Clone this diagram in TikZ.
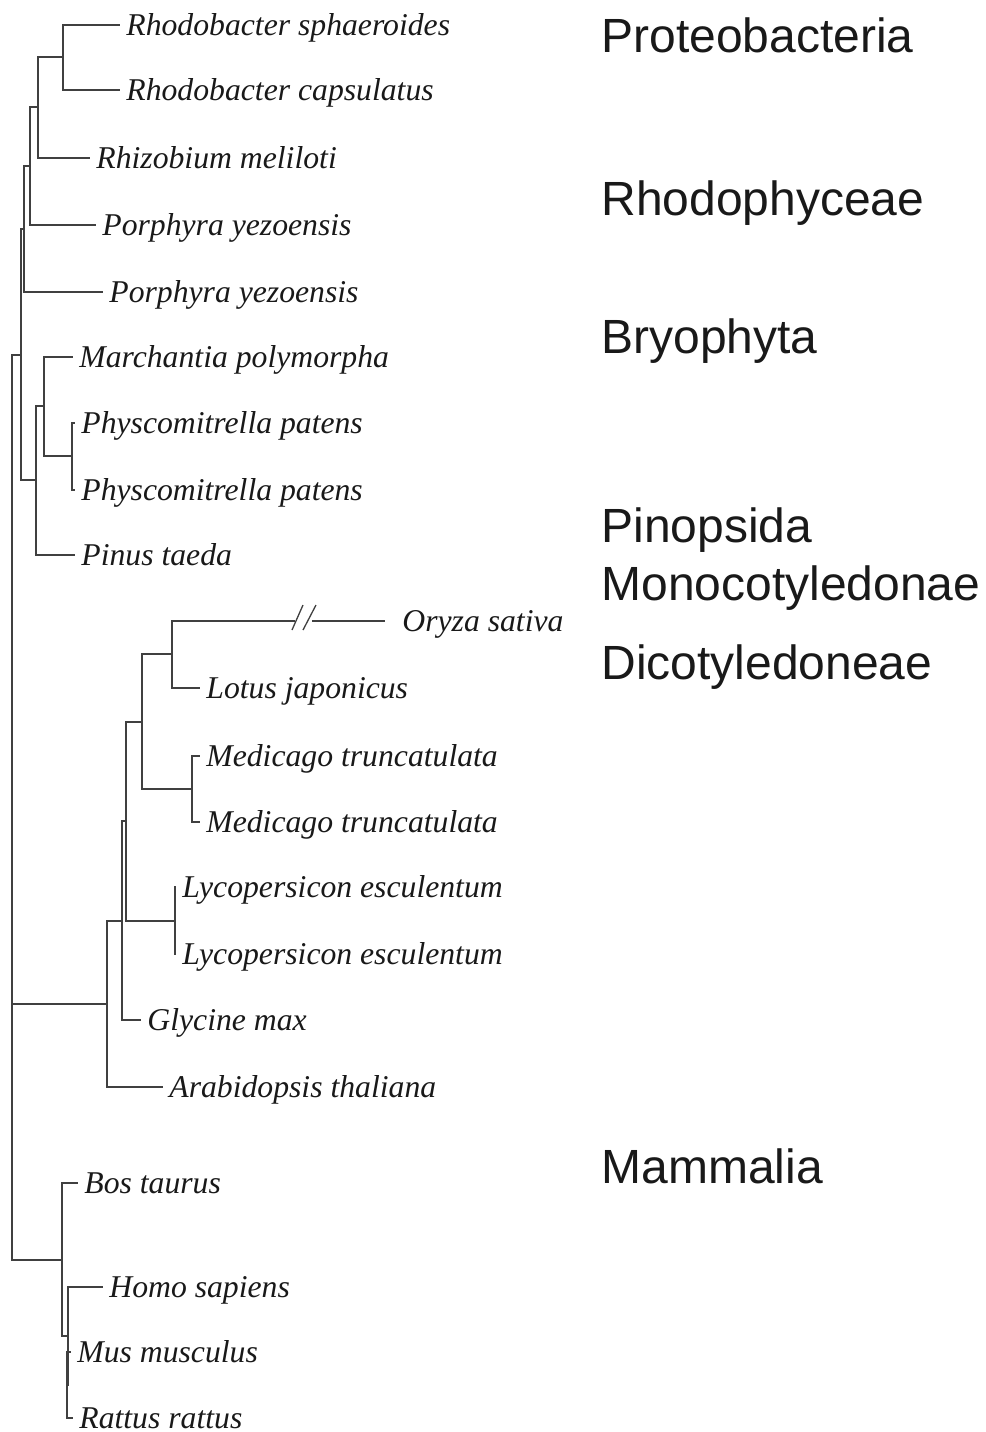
\documentclass[tikz,border=0pt]{standalone}
\usepackage{fontspec}
\usepackage{tikz}
\usetikzlibrary{calc}
\newfontfamily\taxfont{Liberation Serif}
\newfontfamily\groupfont{Liberation Sans}

\begin{document}
\begin{tikzpicture}[
    x=0.5pt, y=-0.5pt,
    taxon/.style={anchor=west, inner xsep=3pt, inner ysep=0pt, text height=12pt, text depth=2pt, text=black!90, font=\taxfont\itshape\fontsize{15.85}{18}\selectfont},
    group/.style={anchor=base west, inner sep=0pt, text=black!90, font=\groupfont\fontsize{24}{26}\selectfont},
    branch/.style={line width=0.65pt, black!75}
]

\useasboundingbox (0,0) rectangle (986,1432);

% Leaves
\node[taxon] (rsph) at (120,25) {Rhodobacter sphaeroides};
\node[taxon] (rcap) at (120,90) {Rhodobacter capsulatus};
\node[taxon] (rmel) at (90,158) {Rhizobium meliloti};
\node[taxon] (pyez1) at (96,225) {Porphyra yezoensis};
\node[taxon] (pyez2) at (103,292) {Porphyra yezoensis};
\node[taxon] (mpol) at (73,357) {Marchantia polymorpha};
\node[taxon] (ppat1) at (75,423) {Physcomitrella patens};
\node[taxon] (ppat2) at (75,490) {Physcomitrella patens};
\node[taxon] (ptae) at (75,555) {Pinus taeda};
\node[taxon, inner xsep=8.5pt] (osat) at (385,621) {Oryza sativa};
\node[taxon] (ljap) at (200,688) {Lotus japonicus};
\node[taxon] (mtru1) at (200,756) {Medicago truncatulata};
\node[taxon] (mtru2) at (200,822) {Medicago truncatulata};
\node[taxon] (lesc1) at (176,887) {Lycopersicon esculentum};
\node[taxon] (lesc2) at (176,954) {Lycopersicon esculentum};
\node[taxon] (gmax) at (141,1020) {Glycine max};
\node[taxon] (atha) at (163,1087) {Arabidopsis thaliana};
\node[taxon] (btau) at (78,1183) {Bos taurus};
\node[taxon] (hsap) at (103,1287) {Homo sapiens};
\node[taxon] (mmus) at (71,1352) {Mus musculus};
\node[taxon] (rrat) at (73,1418) {Rattus rattus};

% Inner nodes
\coordinate (rhodo) at (63,57);
\coordinate (proteo) at (38,107);
\coordinate (porA) at (30,166);
\coordinate (porB) at (24,229);
\coordinate (phys) at (72,456);
\coordinate (moss) at (44,406);
\coordinate (land) at (36,480);
\coordinate (top) at (21,355);
\coordinate (orylot) at (172,654);
\coordinate (med) at (192,789);
\coordinate (fab) at (142,722);
\coordinate (lyc) at (175,921);
\coordinate (eud) at (126,821);
\coordinate (gly) at (122,921);
\coordinate (ara) at (107,1004);
\coordinate (murid) at (67,1385);
\coordinate (euar) at (68,1336);
\coordinate (mam) at (62,1260);
\coordinate (rootA) at (12,680);
\coordinate (root) at (12,970);
\coordinate (brkA) at (295,621);
\coordinate (brkB) at (312,621);

% Branches
\draw[branch] (rhodo) |- (rsph.west);
\draw[branch] (rhodo) |- (rcap.west);
\draw[branch] (proteo) |- (rhodo);
\draw[branch] (proteo) |- (rmel.west);
\draw[branch] (porA) |- (proteo);
\draw[branch] (porA) |- (pyez1.west);
\draw[branch] (porB) |- (porA);
\draw[branch] (porB) |- (pyez2.west);
\draw[branch] (phys) |- (ppat1.west);
\draw[branch] (phys) |- (ppat2.west);
\draw[branch] (moss) |- (mpol.west);
\draw[branch] (moss) |- (phys);
\draw[branch] (land) |- (moss);
\draw[branch] (land) |- (ptae.west);
\draw[branch] (top) |- (porB);
\draw[branch] (top) |- (land);

\draw[branch] (orylot) |- (brkA);
\draw[branch] (brkB) -- (osat.west);
\draw[branch] ($(brkA)+(-3,9)$) -- ++(11,-25);
\draw[branch] ($(brkB)+(-9,9)$) -- ++(13,-25);
\draw[branch] (orylot) |- (ljap.west);
\draw[branch] (med) |- (mtru1.west);
\draw[branch] (med) |- (mtru2.west);
\draw[branch] (fab) |- (orylot);
\draw[branch] (fab) |- (med);
\draw[branch] (lyc) |- (lesc1.west);
\draw[branch] (lyc) |- (lesc2.west);
\draw[branch] (eud) |- (fab);
\draw[branch] (eud) |- (lyc);
\draw[branch] (gly) |- (eud);
\draw[branch] (gly) |- (gmax.west);
\draw[branch] (ara) |- (gly);
\draw[branch] (ara) |- (atha.west);

\draw[branch] (murid) |- (mmus.west);
\draw[branch] (murid) |- (rrat.west);
\draw[branch] (euar) |- (hsap.west);
\draw[branch] (euar) |- (murid);
\draw[branch] (mam) |- (btau.west);
\draw[branch] (mam) |- (euar);

\draw[branch] (rootA) |- (top);
\draw[branch] (rootA) |- (ara);
\draw[branch] (root) |- (rootA);
\draw[branch] (root) |- (mam);

% Groups
\node[group] (proteobac) at (601,52) {Proteobacteria};
\node[group] (rhodophy) at (601,215) {Rhodophyceae};
\node[group] (bryo) at (601,353) {Bryophyta};
\node[group] (pinop) at (601,542) {Pinopsida};
\node[group] (monocot) at (601,600) {Monocotyledonae};
\node[group] (dicot) at (601,679) {Dicotyledoneae};
\node[group] (mammal) at (601,1183) {Mammalia};

\end{tikzpicture}
\end{document}
